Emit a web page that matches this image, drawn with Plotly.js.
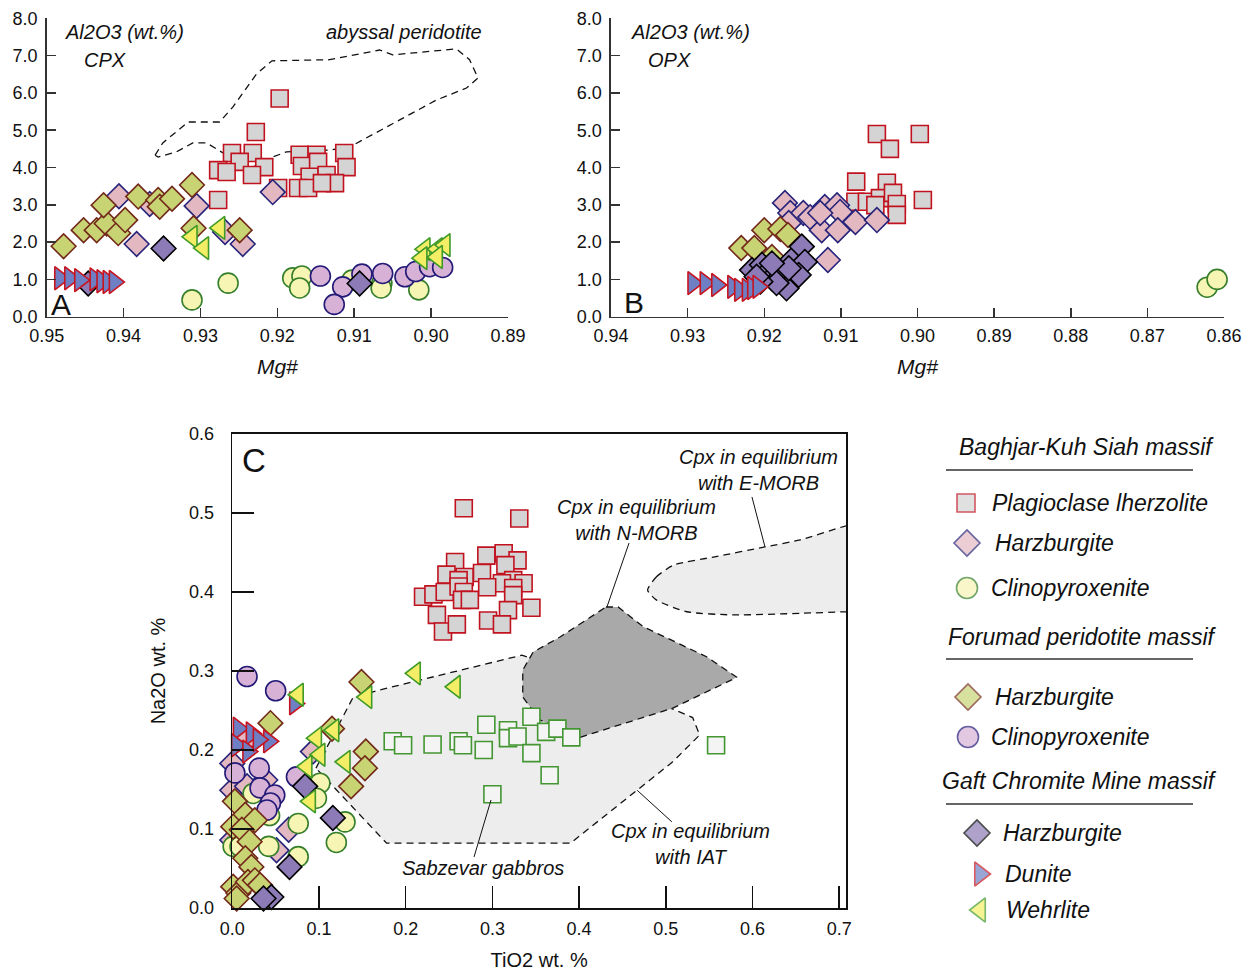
<!DOCTYPE html>
<html><head><meta charset="utf-8">
<script src="https://cdn.plot.ly/plotly-3.0.1.min.js"></script>
<style>html,body{margin:0;padding:0;background:#fff;}#chart{width:1250px;height:972px;}</style>
</head><body><div id="chart"></div>
<script>
// ===================== DATA =====================
// Panel A : CPX  Mg# vs Al2O3 (wt.%)
const cpxPlagMg = [0.9197,0.9228,0.9259,0.9232,0.9249,0.9277,0.9266,0.9217,0.9233,0.9277,0.9171,0.9149,0.9113,0.9168,0.9147,0.9110,0.9158,0.9136,0.9125,0.9173,0.9160,0.9142,0.9199];
const cpxPlagAl = [5.85,4.95,4.39,4.39,4.15,3.93,3.88,4.01,3.80,3.13,4.34,4.34,4.39,4.04,4.15,4.01,3.75,3.80,3.58,3.45,3.45,3.58,3.45];
const cpxBHarzMg = [0.9406,0.9366,0.9305,0.9383,0.9268,0.9245,0.9206];
const cpxBHarzAl = [3.23,3.02,2.97,1.95,2.27,1.95,3.34];
const cpxFHarzMg = [0.9478,0.9452,0.9435,0.9422,0.9407,0.9398,0.9426,0.9381,0.9355,0.9353,0.9337,0.9311,0.9309,0.9249];
const cpxFHarzAl = [1.89,2.32,2.32,2.50,2.24,2.59,2.99,3.22,3.13,2.95,3.16,3.53,2.37,2.32];
const cpxBCpxMg = [0.9311,0.9264,0.9180,0.9168,0.9171,0.9103,0.9064,0.9065,0.9016];
const cpxBCpxAl = [0.45,0.90,1.04,1.09,0.77,0.98,0.90,0.77,0.72];
const cpxFCpxMg = [0.9144,0.9115,0.9126,0.9090,0.9063,0.9034,0.9020,0.9002,0.8985];
const cpxFCpxAl = [1.09,0.80,0.33,1.14,1.16,1.07,1.21,1.34,1.32];
const cpxGHarzMg = [0.9348,0.9446,0.9093];
const cpxGHarzAl = [1.83,0.89,0.89];
const cpxDunMg = [0.9483,0.9470,0.9457,0.9437,0.9428,0.9420,0.9412];
const cpxDunAl = [1.03,1.03,0.98,1.00,0.95,0.93,0.93];
const cpxWehMg = [0.9311,0.9296,0.9275,0.9008,0.8992,0.8982,0.9012,0.8992];
const cpxWehAl = [2.14,1.84,2.38,1.81,1.81,1.92,1.57,1.60];
// abyssal peridotite field outline
const abyssMg = [0.9359,0.9349,0.9316,0.9275,0.9258,0.9227,0.9207,0.9132,0.9067,0.9050,0.8967,0.8950,0.8939,0.8954,0.8993,0.9106,0.9132,0.9188,0.9210,0.9232,0.9249,0.9266,0.9292,0.9310,0.9331,0.9355,0.9359];
const abyssAl = [4.33,4.66,5.22,5.22,5.62,6.51,6.86,6.89,7.15,7.02,7.18,6.89,6.40,6.13,5.81,4.55,4.47,4.42,4.25,4.01,4.12,4.34,4.66,4.66,4.42,4.28,4.33];

// Panel B : OPX  Mg# vs Al2O3 (wt.%)
const opxPlagMg = [0.9053,0.9036,0.8997,0.9080,0.9040,0.9081,0.9066,0.9049,0.9032,0.9055,0.9027,0.9027,0.8993];
const opxPlagAl = [4.90,4.50,4.90,3.62,3.59,3.08,3.08,3.18,3.32,2.99,3.02,2.73,3.13];
const opxBHarzMg = [0.9173,0.9166,0.9149,0.9140,0.9121,0.9105,0.9101,0.9125,0.9104,0.9081,0.9053,0.9117,0.9168,0.9127];
const opxBHarzAl = [3.05,2.78,2.78,2.67,2.94,2.99,2.81,2.32,2.32,2.54,2.59,1.52,2.51,2.78];
const opxFHarzMg = [0.9230,0.9213,0.9200,0.9179,0.9169,0.9190];
const opxFHarzAl = [1.84,1.84,2.32,2.35,2.19,1.60];
const opxBCpxMg = [0.8622,0.8609];
const opxBCpxAl = [0.79,1.00];
const opxGHarzMg = [0.9216,0.9203,0.9197,0.9190,0.9179,0.9171,0.9164,0.9151,0.9147,0.9155,0.9184,0.9205,0.9168,0.9190,0.9210];
const opxGHarzAl = [1.25,1.39,1.16,1.03,1.07,0.76,1.52,1.88,1.47,1.12,0.90,0.94,1.30,1.43,1.07];
const opxDunMg = [0.9293,0.9277,0.9262,0.9241,0.9232,0.9222,0.9215,0.9208];
const opxDunAl = [0.90,0.90,0.85,0.80,0.72,0.72,0.77,0.80];

// Panel C : CPX  TiO2 vs Na2O (wt.%)
const cPlagTi = [0.267,0.331,0.257,0.293,0.313,0.329,0.315,0.247,0.268,0.288,0.261,0.324,0.336,0.311,0.220,0.232,0.245,0.261,0.267,0.265,0.274,0.294,0.324,0.324,0.236,0.318,0.345,0.243,0.259,0.295,0.311];
const cPlagNa = [0.506,0.493,0.438,0.446,0.449,0.440,0.434,0.422,0.419,0.424,0.415,0.415,0.411,0.411,0.394,0.397,0.400,0.407,0.400,0.390,0.390,0.406,0.405,0.396,0.371,0.377,0.380,0.350,0.359,0.364,0.359];
const cGabTi = [0.185,0.197,0.231,0.261,0.266,0.293,0.290,0.345,0.318,0.318,0.329,0.362,0.375,0.391,0.345,0.366,0.300,0.558];
const cGabNa = [0.211,0.206,0.207,0.211,0.206,0.232,0.200,0.242,0.225,0.215,0.217,0.223,0.227,0.216,0.196,0.168,0.144,0.206];
const cBHarzTi = [0.000,0.000,0.017,0.038,0.065,0.051,0.000,0.093,0.017];
const cBHarzNa = [0.183,0.149,0.154,0.162,0.099,0.073,0.086,0.198,0.213];
const cBCpxTi = [0.001,0.009,0.042,0.076,0.076,0.101,0.097,0.130,0.120,0.043,0.024];
const cBCpxNa = [0.078,0.078,0.078,0.107,0.065,0.158,0.139,0.109,0.083,0.117,0.145];
const cFCpxTi = [0.017,0.050,0.003,0.031,0.032,0.049,0.044,0.040,0.074];
const cFCpxNa = [0.293,0.275,0.171,0.177,0.152,0.143,0.133,0.124,0.166];
const cFHarzTi = [0.044,0.003,0.015,0.026,0.001,0.011,0.020,0.015,0.022,0.001,0.007,0.018,0.026,0.005,0.032,0.115,0.149,0.154,0.153,0.137];
const cFHarzNa = [0.234,0.135,0.118,0.111,0.103,0.099,0.084,0.063,0.052,0.027,0.019,0.033,0.035,0.012,0.029,0.227,0.286,0.198,0.177,0.154];
const cGHarzTi = [0.084,0.116,0.066,0.045,0.036];
const cGHarzNa = [0.154,0.114,0.052,0.014,0.012];
const cDunTi = [0.072,0.007,0.022,0.042,0.005,0.018,0.030];
const cDunNa = [0.259,0.227,0.221,0.211,0.206,0.198,0.213];
const cWehTi = [0.076,0.097,0.117,0.101,0.086,0.090,0.130,0.155,0.211,0.257];
const cWehNa = [0.270,0.215,0.225,0.194,0.179,0.135,0.185,0.267,0.297,0.280];
// equilibrium fields
const iatTi = [0.0965,0.139,0.170,0.334,0.510,0.531,0.539,0.508,0.390,0.178,0.0965];
const iatNa = [0.177,0.266,0.276,0.320,0.251,0.241,0.219,0.185,0.082,0.082,0.177];
const nmorbTi = [0.431,0.445,0.474,0.547,0.582,0.508,0.401,0.355,0.335,0.335,0.347,0.378,0.431];
const nmorbNa = [0.381,0.381,0.356,0.318,0.292,0.253,0.216,0.238,0.267,0.301,0.324,0.343,0.381];
const emorbTi = [0.479,0.489,0.509,0.559,0.614,0.655,0.709,0.76,0.76,0.709,0.655,0.578,0.524,0.489,0.479];
const emorbNa = [0.4025,0.419,0.434,0.445,0.457,0.466,0.484,0.494,0.376,0.375,0.373,0.371,0.375,0.390,0.4025];

// tick labels
const mgTicksA = [0.95,0.94,0.93,0.92,0.91,0.90,0.89];
const mgTicksB = [0.94,0.93,0.92,0.91,0.90,0.89,0.88,0.87,0.86];
const alTicks = [0,1,2,3,4,5,6,7,8];
const tiTicks = [0,0.1,0.2,0.3,0.4,0.5,0.6,0.7];
const naTicks = [0,0.1,0.2,0.3,0.4,0.5,0.6];

// legend
const legendGroups = ['Baghjar-Kuh Siah massif','Forumad peridotite massif','Gaft Chromite Mine massif'];
const legendLabels = ['Plagioclase lherzolite','Harzburgite','Clinopyroxenite','Harzburgite','Clinopyroxenite','Harzburgite','Dunite','Wehrlite'];

// ===================== STYLE =====================
const FONT = 'Liberation Sans, Arial, Helvetica, sans-serif';
const STY = {
  plag:  {symbol:'square', size:17, fill:'#d4d4d4', edge:'#c1121f'},
  bHarz: {symbol:'diamond', size:19, fill:'#e4b8c1', edge:'#25237a'},
  bCpx:  {symbol:'circle', size:20, fill:'#f7f5b3', edge:'#357f2a'},
  fHarz: {symbol:'diamond', size:19, fill:'#c8d474', edge:'#72291a'},
  fCpx:  {symbol:'circle', size:20, fill:'#d8b2d6', edge:'#231a78'},
  gHarz: {symbol:'diamond', size:19, fill:'#8c7bb6', edge:'#000000'},
  dun:   {symbol:'triangle-right', size:20, fill:'#6e7fc3', edge:'#c8141f'},
  weh:   {symbol:'triangle-left', size:20, fill:'#f3ee66', edge:'#3f9a28'},
  gab:   {symbol:'square', size:17, fill:'#f4f4f4', edge:'#439632'}
};
const legendStyles = ['plag','bHarz','bCpx','fHarz','fCpx','gHarz','dun','weh'];

function pts(x, y, k, xa, ya){
  const s = STY[k];
  return {type:'scatter', mode:'markers', x:x, y:y, xaxis:xa, yaxis:ya, cliponaxis:false,
    showlegend:false, hoverinfo:'skip',
    marker:{symbol:s.symbol, size:s.size, color:s.fill, opacity:1, line:{color:s.edge, width:1.6}}};
}
function field(x, y, fill, xa, ya, shape){
  return {type:'scatter', mode:'lines', x:x, y:y, xaxis:xa, yaxis:ya, showlegend:false, hoverinfo:'skip',
    fill: fill ? 'toself' : 'none', fillcolor: fill || 'rgba(0,0,0,0)',
    line:{color:'#111', width:1.3, dash:'7px,5px', shape: shape || 'linear', smoothing:0.6}};
}

const traces = [
  field(abyssMg, abyssAl, null, 'x', 'y'),
  pts(cpxPlagMg, cpxPlagAl, 'plag', 'x', 'y'),
  pts(cpxBHarzMg, cpxBHarzAl, 'bHarz', 'x', 'y'),
  pts(cpxFHarzMg, cpxFHarzAl, 'fHarz', 'x', 'y'),
  pts(cpxBCpxMg, cpxBCpxAl, 'bCpx', 'x', 'y'),
  pts(cpxFCpxMg, cpxFCpxAl, 'fCpx', 'x', 'y'),
  pts(cpxGHarzMg, cpxGHarzAl, 'gHarz', 'x', 'y'),
  pts(cpxDunMg, cpxDunAl, 'dun', 'x', 'y'),
  pts(cpxWehMg, cpxWehAl, 'weh', 'x', 'y'),

  pts(opxPlagMg, opxPlagAl, 'plag', 'x2', 'y2'),
  pts(opxBHarzMg, opxBHarzAl, 'bHarz', 'x2', 'y2'),
  pts(opxFHarzMg, opxFHarzAl, 'fHarz', 'x2', 'y2'),
  pts(opxBCpxMg, opxBCpxAl, 'bCpx', 'x2', 'y2'),
  pts(opxGHarzMg, opxGHarzAl, 'gHarz', 'x2', 'y2'),
  pts(opxDunMg, opxDunAl, 'dun', 'x2', 'y2'),

  field(iatTi, iatNa, '#ededed', 'x3', 'y3'),
  field(nmorbTi, nmorbNa, '#a9a9a9', 'x3', 'y3'),
  field(emorbTi, emorbNa, '#ededed', 'x3', 'y3', 'spline'),
  pts(cGabTi, cGabNa, 'gab', 'x3', 'y3'),
  pts(cPlagTi, cPlagNa, 'plag', 'x3', 'y3'),
  pts(cBHarzTi, cBHarzNa, 'bHarz', 'x3', 'y3'),
  pts(cBCpxTi, cBCpxNa, 'bCpx', 'x3', 'y3'),
  pts(cFCpxTi, cFCpxNa, 'fCpx', 'x3', 'y3'),
  pts(cFHarzTi, cFHarzNa, 'fHarz', 'x3', 'y3'),
  pts(cGHarzTi, cGHarzNa, 'gHarz', 'x3', 'y3'),
  pts(cDunTi, cDunNa, 'dun', 'x3', 'y3'),
  pts(cWehTi, cWehNa, 'weh', 'x3', 'y3')
];

// ---- legend (drawn on an invisible pixel overlay axis) ----
const keyPos = {x:[966,967,967,968,968,977,980,980], y:[503,543,588,697,737,833,874,910]};
const textPos = {x:[990,993,989,993,989,1001,1003,1004]};
const headPos = {x:[1086,1082,1079], y:[447,637,781], line:[470,659,804]};
traces.push({type:'scatter', mode:'markers', xaxis:'x4', yaxis:'y4', x:keyPos.x, y:keyPos.y,
  showlegend:false, hoverinfo:'skip', cliponaxis:false,
  marker:{symbol:legendStyles.map(k=>STY[k].symbol), size:legendStyles.map(k=>STY[k].size+1),
    color:legendStyles.map(k=>STY[k].fill), line:{color:legendStyles.map(k=>STY[k].edge), width:1.6}}});

const ann = [];
function txt(x, y, t, size, opts){
  ann.push(Object.assign({xref:'x4', yref:'y4', x:x, y:y, text:t, showarrow:false,
    xanchor:'center', yanchor:'middle', font:{family:FONT, size:size, color:'#111'}}, opts||{}));
}
legendLabels.forEach((l,i)=>txt(textPos.x[i], keyPos.y[i], '<i>'+l+'</i>', 23, {xanchor:'left'}));
legendGroups.forEach((g,i)=>txt(headPos.x[i], headPos.y[i], '<i>'+g+'</i>', 23));
const shapes = headPos.line.map(y=>({type:'line', xref:'x4', yref:'y4', x0:946, x1:1193, y0:y, y1:y, line:{color:'#333', width:1.5}}));

// panel text
txt(124, 32, '<i>Al2O3 (wt.%)</i>', 20);
txt(105, 60, '<i>CPX</i>', 20);
txt(404, 32, '<i>abyssal peridotite</i>', 20);
txt(61, 304, 'A', 30);
txt(690, 32, '<i>Al2O3 (wt.%)</i>', 20);
txt(669, 60, '<i>OPX</i>', 20);
txt(634, 302, 'B', 30);
txt(254, 460, 'C', 33);
txt(758, 470, '<i>Cpx in equilibrium<br>with E-MORB</i>', 20);
txt(636, 520, '<i>Cpx in equilibrium<br>with N-MORB</i>', 20);
txt(690, 844, '<i>Cpx in equilibrium<br>with IAT</i>', 20);
txt(483, 868, '<i>Sabzevar gabbros</i>', 20);

// leader lines (panel C data space)
const leaders = [
  [0.5994,0.5203,0.6144,0.457],
  [0.4576,0.462,0.4321,0.381],
  [0.2984,0.1367,0.2788,0.0646],
  [0.467,0.149,0.507,0.109]
];
leaders.forEach(l=>shapes.push({type:'line', xref:'x3', yref:'y3', x0:l[0], y0:l[1], x1:l[2], y1:l[3], line:{color:'#111', width:1}}));

const tickFont = {family:FONT, size:18, color:'#111'};
const titleFont = {family:FONT, size:21, color:'#111'};
const baseAx = {showgrid:false, zeroline:false, showline:true, linecolor:'#333', linewidth:1.6,
  ticks:'inside', ticklen:9, tickwidth:1.5, tickcolor:'#333', tickfont:tickFont, fixedrange:true};

const layout = {
  width:1250, height:972, margin:{l:0,r:0,t:0,b:0}, paper_bgcolor:'#fff', plot_bgcolor:'rgba(0,0,0,0)',
  showlegend:false, hovermode:false, font:{family:FONT},
  xaxis: Object.assign({}, baseAx, {domain:[0.03736,0.4064], anchor:'y', range:[0.95,0.89], tickmode:'array',
    tickvals:mgTicksA, ticktext:mgTicksA.map(v=>v.toFixed(2)), ticklabelstandoff:2,
    title:{text:'<i>Mg#</i>', font:titleFont, standoff:14}}),
  yaxis: Object.assign({}, baseAx, {domain:[0.67418,0.98117], anchor:'x', range:[0,8], tickmode:'array',
    tickvals:alTicks, ticktext:alTicks.map(v=>v.toFixed(1)), ticklabelstandoff:4}),
  xaxis2: Object.assign({}, baseAx, {domain:[0.4888,0.9792], anchor:'y2', range:[0.94,0.86], tickmode:'array',
    tickvals:mgTicksB, ticktext:mgTicksB.map(v=>v.toFixed(2)), ticklabelstandoff:2,
    title:{text:'<i>Mg#</i>', font:titleFont, standoff:14}}),
  yaxis2: Object.assign({}, baseAx, {domain:[0.67418,0.98117], anchor:'x2', range:[0,8], tickmode:'array',
    tickvals:alTicks, ticktext:alTicks.map(v=>v.toFixed(1)), ticklabelstandoff:4}),
  xaxis3: Object.assign({}, baseAx, {domain:[0.18584,0.6768], anchor:'y3', range:[0,0.70784], tickmode:'array',
    tickvals:tiTicks, ticktext:tiTicks.map(v=>v.toFixed(1)), ticklen:22, linecolor:'#111', tickcolor:'#111',
    mirror:true, ticklabelstandoff:4, title:{text:'TiO2 wt. %', font:{family:FONT,size:20,color:'#111'}, standoff:15}}),
  yaxis3: Object.assign({}, baseAx, {domain:[0.06584,0.5535], anchor:'x3', range:[0,0.6], tickmode:'array',
    tickvals:naTicks, ticktext:naTicks.map(v=>v.toFixed(1)), ticklen:22, linecolor:'#111', tickcolor:'#111',
    mirror:true, ticklabelstandoff:13, title:{text:'Na2O wt. %', font:{family:FONT,size:20,color:'#111'}, standoff:18}}),
  xaxis4: {domain:[0,1], range:[0,1250], visible:false, fixedrange:true, anchor:'y4'},
  yaxis4: {domain:[0,1], range:[972,0], visible:false, fixedrange:true, anchor:'x4'},
  annotations: ann,
  shapes: shapes
};

Plotly.newPlot('chart', traces, layout, {staticPlot:true, displayModeBar:false});
</script>
</body></html>
